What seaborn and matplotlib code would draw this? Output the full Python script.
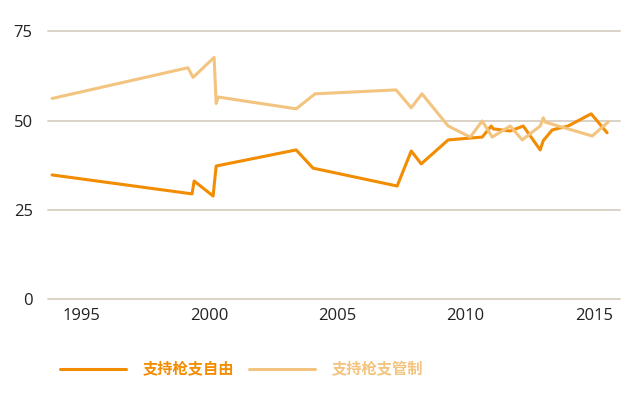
import pandas as pd
import matplotlib.pyplot as plt
import seaborn as sns

# survey dates (decimal years) and shares
years_free = [1993.87, 1999.33, 1999.41, 2000.15, 2000.27, 2003.39, 2004.05, 2007.33,
              2007.88, 2008.27, 2009.32, 2010.65, 2011.00, 2011.08, 2011.74, 2012.25,
              2012.91, 2013.03, 2013.38, 2014.00, 2014.90, 2015.52]
free = [34.8, 29.5, 33.1, 28.9, 37.3, 41.8, 36.7, 31.7, 41.5, 37.9, 44.6, 45.4,
        48.5, 47.7, 47.1, 48.5, 41.8, 44.4, 47.4, 48.5, 51.9, 46.6]

years_ctrl = [1993.87, 1999.17, 1999.37, 2000.19, 2000.27, 2000.35, 2003.39, 2004.13,
              2007.29, 2007.88, 2008.30, 2009.32, 2010.18, 2010.65, 2011.04, 2011.74,
              2012.21, 2012.91, 2013.03, 2013.10, 2014.94, 2015.56]
ctrl = [56.2, 64.8, 62.1, 67.7, 54.8, 56.6, 53.3, 57.5, 58.6, 53.6, 57.5, 48.5,
        45.4, 49.9, 45.4, 48.5, 44.6, 48.5, 50.8, 49.6, 45.7, 49.6]

labels = ['支持枪支自由', '支持枪支管制']
colors = ['#F28C00', '#F3C47F']
xticks = [1995, 2000, 2005, 2010, 2015]
yticks = [0, 25, 50, 75]

df = pd.concat([
    pd.DataFrame({'year': years_free, 'share': free, 'series': labels[0]}),
    pd.DataFrame({'year': years_ctrl, 'share': ctrl, 'series': labels[1]}),
])

sns.set_style('white')
plt.rcParams['font.family'] = ['Open Sans', 'Noto Sans CJK SC', 'DejaVu Sans']

fig = plt.figure(figsize=(6.4, 3.95), dpi=100)
ax = fig.add_axes([0.075, 0.2423, 0.894, 0.7056])

sns.lineplot(data=df, x='year', y='share', hue='series', palette=colors,
             estimator=None, sort=False, linewidth=2.2, legend=False, ax=ax)

ax.set_xlim(1993.71, 2016.03)
ax.set_ylim(0, 78)
ax.set_xticks(xticks)
ax.set_yticks(yticks)
ax.set_xlabel('')
ax.set_ylabel('')
ax.set_axisbelow(True)
ax.grid(axis='y', color='#D9CFC3', linewidth=1.3)
ax.grid(axis='x', visible=False)
for gl in ax.get_ygridlines():
    gl.set_clip_on(False)
sns.despine(ax=ax, left=True, bottom=True)
ax.tick_params(axis='x', length=0, pad=6.5, labelsize=12, labelcolor='#222222')
ax.tick_params(axis='y', length=0, pad=11, labelsize=12, labelcolor='#222222')

handles = ax.get_lines()[:2]
fig.legend(handles, labels, loc='center left', bbox_to_anchor=(0.094, 0.066),
           ncol=2, frameon=False, handlelength=4.3, handletextpad=1.1,
           columnspacing=1.0, borderpad=0, borderaxespad=0,
           labelcolor='linecolor',
           prop={'family': ['Noto Sans CJK SC', 'DejaVu Sans'], 'weight': 'bold', 'size': 11})

fig.savefig('out.png', dpi=100)
